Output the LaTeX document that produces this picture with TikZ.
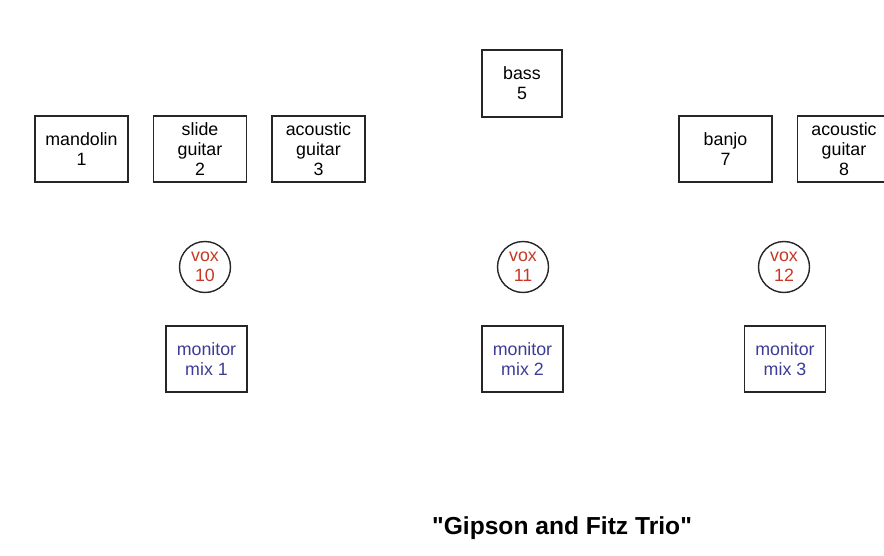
\documentclass[tikz,border=0pt]{standalone}
\usepackage{fontspec}
\setmainfont{Liberation Sans}
\usepackage{tikz}
\usetikzlibrary{positioning}
\definecolor{voxred}{RGB}{200,55,35}
\definecolor{mixblue}{RGB}{60,60,150}

\begin{document}
\begin{tikzpicture}[x=0.5pt,y=-0.5pt,node distance=59.25pt,line width=0.7pt,
                    font=\fontsize{8.9}{10}\selectfont]
  \tikzstyle{instr}=[draw=black!85,minimum width=46.5pt,minimum height=33pt,
                     inner sep=0pt,align=center]
  \tikzstyle{vox}=[circle,draw=black!85,minimum size=25.5pt,inner sep=0pt,
                   align=center,text=voxred]
  \tikzstyle{mix}=[draw=black!85,minimum width=40.5pt,minimum height=33pt,
                   inner sep=0pt,align=center,text=mixblue]

  \useasboundingbox (0,0) rectangle (884,556);

  \node[instr] (mandolin) at (81.5,149)        {mandolin\\1};
  \node[instr] (slide)    [right of=mandolin]  {slide\\guitar\\2};
  \node[instr] (acoustA)  [right of=slide]     {acoustic\\guitar\\3};
  \node[instr,minimum width=40pt,minimum height=33.5pt]
               (bass)     at (522,83.5)        {bass\\5};
  \node[instr] (banjo)    at (725.5,149)       {banjo\\7};
  \node[instr] (acoustB)  [right of=banjo]     {acoustic\\guitar\\8};

  \node[vox]   (voxA)     at (205,267)         {vox\\10};
  \node[vox]   (voxB)     at (523,267)         {vox\\11};
  \node[vox]   (voxC)     at (784,267)         {vox\\12};

  \node[mix]   (mixA)     at (206.5,359)       {monitor\\mix 1};
  \node[mix]   (mixB)     at (522.5,359)       {monitor\\mix 2};
  \node[mix]   (mixC)     at (785,359)         {monitor\\mix 3};

  \node[font=\fontsize{12.3}{14}\selectfont\bfseries]
               (title)    at (562,528)
               {\textquotedbl Gipson and Fitz Trio\textquotedbl};
\end{tikzpicture}
\end{document}
